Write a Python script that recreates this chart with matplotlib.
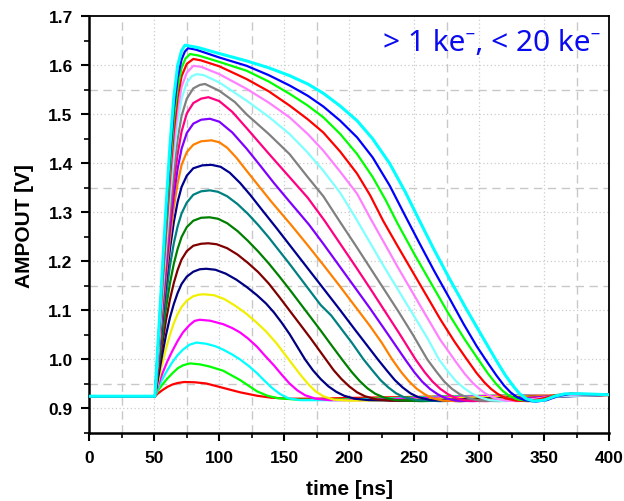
import matplotlib
matplotlib.use("Agg")
import matplotlib.pyplot as plt
from matplotlib.ticker import MultipleLocator

# ---------------- data ----------------
t_c01 = [0, 50.5, 53, 56, 60, 64, 68, 73, 81, 90, 103, 116, 129, 140, 155, 175, 210, 260, 320, 400]
v_c01 = [.925, .925, .931, .937, .944, .949, .952, .954, .9535, .951, .942, .933, .926, .922, .920, .920, .922, .924, .926, .927]

t_c02 = [0, 50.5, 53, 56, 60, 64, 68, 72, 77.5, 85, 92, 103, 116, 129, 137, 145, 160, 190, 230, 280, 340, 400]
v_c02 = [.925, .925, .937, .948, .961, .972, .982, .988, .992, .990, .986, .977, .958, .935, .926, .921, .918, .918, .921, .925, .927, .928]

t_c03 = [0, 50.5, 53, 56, 60, 64, 68, 72, 77, 82.5, 90, 97, 103, 110, 116, 123, 129, 135, 141, 147, 153, 162, 190, 230, 280, 340, 400]
v_c03 = [.925, .925, .942, .959, .978, .995, 1.009, 1.020, 1.030, 1.0345, 1.032, 1.027, 1.020, 1.010, 1.000, .986, .972, .956, .941, .929, .921, .917, .917, .920, .924, .927, .928]

t_c04 = [0, 50.5, 53, 56, 60, 64, 68, 72, 77, 81, 85, 93, 103, 110, 116, 122, 129, 135, 142, 148, 154, 160, 166, 174, 185, 210, 250, 300, 350, 400]
v_c04 = [.925, .925, .948, .970, .996, 1.018, 1.038, 1.055, 1.070, 1.0787, 1.081, 1.079, 1.072, 1.064, 1.055, 1.043, 1.026, 1.008, .988, .969, .951, .937, .927, .920, .917, .917, .921, .925, .927, .928]

t_c05 = [0, 50.5, 53, 56, 59, 62, 65, 68, 71, 75, 80, 84, 88, 96, 104, 112, 120, 128, 136, 144, 150, 156, 162, 168, 174, 180, 188, 200, 240, 290, 340, 400]
v_c05 = [.925, .925, .955, .990, 1.022, 1.050, 1.074, 1.093, 1.107, 1.120, 1.129, 1.132, 1.133, 1.131, 1.123, 1.110, 1.095, 1.077, 1.057, 1.033, 1.012, .991, .970, .951, .935, .925, .918, .916, .917, .922, .926, .928]

t_c06 = [0, 50.5, 53, 56, 59, 62, 65, 68, 71, 75, 80, 85, 90, 97, 105, 113, 121, 129, 136, 142, 148, 154, 160, 166, 172, 178, 184, 190, 196, 204, 215, 240, 280, 320, 360, 400]
v_c06 = [.925, .925, .963, 1.008, 1.050, 1.085, 1.113, 1.136, 1.154, 1.169, 1.179, 1.184, 1.185, 1.183, 1.175, 1.163, 1.148, 1.131, 1.114, 1.096, 1.075, 1.052, 1.026, 1.000, .978, .960, .945, .934, .926, .920, .917, .916, .918, .922, .926, .928]

t_c07 = [0, 50.5, 53, 56, 59, 62, 65, 68, 71, 75, 80, 86, 91.5, 98, 106, 114, 122, 130, 138, 146, 154, 162, 170, 176, 182, 188, 194, 200, 206, 212, 220, 232, 260, 300, 340, 400]
v_c07 = [.925, .925, .972, 1.028, 1.080, 1.122, 1.156, 1.183, 1.204, 1.221, 1.232, 1.236, 1.237, 1.235, 1.227, 1.214, 1.197, 1.178, 1.155, 1.128, 1.100, 1.072, 1.044, 1.022, 1.000, .978, .960, .945, .933, .925, .919, .916, .916, .919, .924, .928]

t_c08 = [0, 50.5, 53, 56, 59, 62, 65, 68, 71, 75, 80, 86, 92.5, 99, 106, 114, 122, 130, 138, 146, 154, 162, 170, 178, 186, 195, 202, 208, 214, 220, 227, 236, 255, 290, 330, 370, 400]
v_c08 = [.925, .925, .980, 1.045, 1.105, 1.155, 1.195, 1.226, 1.250, 1.270, 1.283, 1.289, 1.290, 1.287, 1.278, 1.262, 1.242, 1.220, 1.196, 1.170, 1.143, 1.115, 1.087, 1.059, 1.030, .998, .974, .956, .941, .930, .922, .917, .915, .917, .922, .926, .928]

t_c09 = [0, 50.5, 53, 56, 59, 62, 65, 68, 71, 75, 80, 86, 92.8, 99, 106, 114, 122, 130, 138, 146, 154, 162, 170, 178, 186, 194, 202, 211, 218, 224, 230, 236, 242, 252, 270, 310, 350, 400]
v_c09 = [.925, .925, .985, 1.060, 1.130, 1.190, 1.237, 1.272, 1.298, 1.320, 1.336, 1.343, 1.345, 1.342, 1.333, 1.317, 1.297, 1.274, 1.249, 1.222, 1.195, 1.167, 1.139, 1.111, 1.090, 1.062, 1.034, 1.000, .977, .958, .943, .931, .923, .917, .915, .918, .924, .928]

t_c10 = [0, 50.5, 53, 56, 59, 62, 65, 68, 71, 75, 80, 87, 94, 101, 108, 116, 124, 132, 138, 144, 156, 168, 180, 192, 204, 213, 222, 229, 235, 241, 247, 253, 263, 285, 320, 360, 400]
v_c10 = [.925, .925, .990, 1.075, 1.155, 1.225, 1.280, 1.322, 1.352, 1.375, 1.390, 1.396, 1.397, 1.393, 1.381, 1.360, 1.335, 1.308, 1.288, 1.268, 1.227, 1.186, 1.145, 1.104, 1.062, 1.031, 1.000, .977, .958, .943, .931, .923, .917, .915, .918, .924, .928]

t_c11 = [0, 50.5, 53, 56, 59, 62, 65, 68, 71, 75, 80, 86, 94, 100, 106, 113, 121, 130, 140, 148, 156, 168, 180, 192, 204, 216, 225, 233, 240, 246, 252, 258, 264, 272, 285, 310, 345, 400]
v_c11 = [.925, .925, .995, 1.085, 1.170, 1.245, 1.310, 1.360, 1.397, 1.423, 1.438, 1.445, 1.447, 1.443, 1.432, 1.412, 1.385, 1.355, 1.322, 1.297, 1.272, 1.233, 1.193, 1.152, 1.110, 1.068, 1.034, 1.000, .974, .955, .940, .929, .921, .916, .915, .918, .925, .928]

t_c12 = [0, 50.5, 53, 56, 59, 62, 65, 68, 71, 75, 80, 86, 92.8, 100, 110, 121, 131, 142, 154, 162, 169, 180, 192, 204, 216, 228, 243, 250, 256, 262, 268, 274, 282, 295, 320, 355, 400]
v_c12 = [.925, .925, 1.000, 1.095, 1.185, 1.265, 1.335, 1.390, 1.430, 1.462, 1.481, 1.489, 1.491, 1.485, 1.463, 1.430, 1.397, 1.360, 1.322, 1.297, 1.275, 1.236, 1.192, 1.148, 1.104, 1.058, 1.000, .974, .955, .940, .929, .921, .916, .915, .918, .925, .928]

t_c13 = [0, 50.5, 53, 56, 59, 62, 65, 68, 71, 75, 80, 86, 91.6, 100, 110, 121, 138, 154, 168, 181, 193, 205, 216, 227, 238, 251, 258, 264, 270, 276, 282, 290, 305, 330, 360, 400]
v_c13 = [.925, .925, 1.005, 1.105, 1.200, 1.285, 1.360, 1.420, 1.465, 1.502, 1.523, 1.532, 1.535, 1.527, 1.505, 1.472, 1.420, 1.372, 1.330, 1.283, 1.236, 1.189, 1.145, 1.100, 1.055, 1.000, .974, .955, .940, .929, .921, .916, .915, .918, .925, .928]

t_c14 = [0, 50.5, 53, 56, 59, 62, 65, 68, 71, 75, 80, 85, 89, 100, 112, 121, 138, 154, 168, 180, 193, 205, 216, 227, 238, 249, 260, 267, 273, 279, 285, 292, 300, 315, 340, 365, 400]
v_c14 = [.925, .925, 1.010, 1.115, 1.215, 1.305, 1.385, 1.450, 1.497, 1.532, 1.553, 1.560, 1.562, 1.548, 1.525, 1.500, 1.460, 1.419, 1.372, 1.333, 1.280, 1.232, 1.187, 1.142, 1.097, 1.050, 1.000, .975, .955, .940, .929, .921, .916, .915, .918, .925, .928]

t_c15 = [0, 50.5, 53, 56, 59, 62, 65, 68, 71, 75, 79, 82.6, 88, 100, 121, 138, 154, 168, 180, 193, 205, 216, 227, 238, 249, 260, 269, 276, 282, 288, 294, 300, 308, 320, 340, 360, 400]
v_c15 = [.925, .925, 1.015, 1.125, 1.230, 1.330, 1.415, 1.485, 1.532, 1.565, 1.578, 1.582, 1.580, 1.565, 1.528, 1.495, 1.460, 1.422, 1.385, 1.340, 1.288, 1.238, 1.188, 1.140, 1.092, 1.044, 1.000, .975, .956, .942, .931, .923, .917, .915, .918, .925, .928]

t_c16 = [0, 50.5, 53, 56, 59, 62, 65, 68, 71, 75, 80, 86, 100, 121, 138, 154, 168, 180, 193, 206, 216, 227, 238, 249, 260, 270, 282, 289, 295, 300, 305, 311, 320, 330, 345, 360, 400]
v_c16 = [.925, .925, 1.020, 1.135, 1.245, 1.350, 1.440, 1.510, 1.556, 1.585, 1.599, 1.597, 1.582, 1.552, 1.524, 1.494, 1.460, 1.426, 1.383, 1.338, 1.289, 1.237, 1.185, 1.135, 1.085, 1.040, .995, .970, .952, .940, .930, .922, .916, .915, .920, .927, .928]

t_c17 = [0, 50.5, 53, 56, 59, 62, 65, 68, 71, 75, 80, 86, 100, 121, 138, 154, 168, 180, 193, 206, 216, 226, 237, 248, 259, 270, 281, 291, 298, 304, 309, 314, 320, 328, 338, 348, 358, 370, 400]
v_c17 = [.925, .925, 1.025, 1.145, 1.260, 1.370, 1.465, 1.535, 1.578, 1.603, 1.613, 1.610, 1.598, 1.572, 1.547, 1.518, 1.490, 1.463, 1.424, 1.379, 1.335, 1.283, 1.232, 1.182, 1.132, 1.082, 1.036, .998, .972, .953, .940, .930, .921, .916, .915, .920, .927, .930, .928]

t_c18 = [0, 50.5, 53, 56, 59, 62, 65, 68, 71, 74, 77.5, 84, 100, 121, 138, 154, 168, 180, 193, 206, 218, 228, 237, 250, 263, 276, 289, 300, 307, 313, 318, 323, 330, 340, 350, 358, 370, 400]
v_c18 = [.925, .925, 1.030, 1.155, 1.275, 1.390, 1.490, 1.555, 1.595, 1.614, 1.623, 1.620, 1.607, 1.589, 1.567, 1.542, 1.518, 1.494, 1.460, 1.419, 1.372, 1.325, 1.278, 1.215, 1.155, 1.095, 1.040, .997, .970, .950, .936, .926, .918, .915, .918, .926, .930, .928]

t_c19 = [0, 50.5, 53, 56, 59, 62, 65, 68, 71, 73.5, 76, 82, 100, 121, 138, 154, 168, 180, 193, 206, 218, 231, 243, 254, 265, 277, 288, 298, 306, 313, 319, 324, 329, 335, 343, 352, 360, 370, 400]
v_c19 = [.925, .925, 1.035, 1.165, 1.290, 1.410, 1.510, 1.575, 1.612, 1.628, 1.635, 1.632, 1.616, 1.599, 1.580, 1.559, 1.538, 1.516, 1.487, 1.453, 1.412, 1.355, 1.293, 1.237, 1.182, 1.125, 1.072, 1.027, .995, .968, .947, .933, .923, .917, .914, .917, .925, .930, .928]

t_c20 = [0, 50.5, 53, 56, 59, 62, 65, 68, 71, 73.6, 78, 84, 100, 121, 138, 154, 168, 180, 193, 206, 218, 231, 243, 254, 265, 277, 290, 302, 313, 320, 326, 331, 336, 342, 350, 358, 366, 380, 400]
v_c20 = [.925, .925, 1.040, 1.175, 1.310, 1.435, 1.535, 1.600, 1.630, 1.641, 1.639, 1.636, 1.624, 1.609, 1.595, 1.579, 1.562, 1.543, 1.517, 1.487, 1.450, 1.400, 1.342, 1.283, 1.225, 1.165, 1.103, 1.048, .998, .968, .946, .930, .920, .915, .917, .925, .930, .930, .928]

curve_colors = ["#FF0000", "#00FF00", "#00FFFF", "#FF00FF", "#F0F000", "#000080",
                "#800000", "#008000", "#008080", "#000090", "#FF8000", "#8000FF",
                "#FF0080", "#808080", "#80FFFF", "#FF80FF", "#FF0000", "#00FF00",
                "#0000FF", "#00FFFF"]

x_ticks = [0, 50, 100, 150, 200, 250, 300, 350, 400]
y_ticks = [0.9, 1.0, 1.1, 1.2, 1.3, 1.4, 1.5, 1.6, 1.7]
x_minor_grid = [25, 75, 125, 175, 275, 375]
y_minor_grid = [0.95, 1.15, 1.35, 1.55]

series_t = [t_c01, t_c02, t_c03, t_c04, t_c05, t_c06, t_c07, t_c08, t_c09, t_c10,
            t_c11, t_c12, t_c13, t_c14, t_c15, t_c16, t_c17, t_c18, t_c19, t_c20]
series_v = [v_c01, v_c02, v_c03, v_c04, v_c05, v_c06, v_c07, v_c08, v_c09, v_c10,
            v_c11, v_c12, v_c13, v_c14, v_c15, v_c16, v_c17, v_c18, v_c19, v_c20]

# ---------------- figure ----------------
plt.rcParams['font.family'] = ['Liberation Sans', 'DejaVu Sans']
fig = plt.figure(figsize=(6.24, 5.02), dpi=100)
ax = fig.add_axes([89.3 / 624, (502 - 434) / 502, (609.3 - 89.3) / 624, (434 - 17.3) / 502])

ax.set_xlim(0, 400)
ax.set_ylim(0.85, 1.7)

# grid
for gx in x_ticks[1:-1]:
    ax.axvline(gx, color="#cccccc", lw=0.9, ls=(0, (1, 2)), zorder=0)
for gy in y_ticks[:-1]:
    ax.axhline(gy, color="#cccccc", lw=0.9, ls=(0, (1, 2)), zorder=0)
for gx in x_minor_grid:
    ax.axvline(gx, color="#c8c8c8", lw=1.0, ls=(0, (6, 4)), zorder=0)
for gy in y_minor_grid:
    ax.axhline(gy, color="#c8c8c8", lw=1.0, ls=(0, (6, 4)), zorder=0)

for i, (tt, vv) in enumerate(zip(series_t, series_v)):
    lw = 2.2 if i == len(series_t) - 1 else 1.6
    ax.plot(tt, vv, color=curve_colors[i], lw=lw, solid_joinstyle='round',
            solid_capstyle='round', zorder=2 + i)

ax.set_xticks(x_ticks)
ax.set_yticks(y_ticks)
ax.xaxis.set_minor_locator(MultipleLocator(25))
ax.yaxis.set_minor_locator(MultipleLocator(0.05))
ax.set_xticklabels([str(v) for v in x_ticks])
ax.set_yticklabels([f"{v:.1f}" for v in y_ticks])
ax.tick_params(axis='both', which='major', direction='out', length=6, width=1.5,
               labelsize=12.5, pad=6)
ax.tick_params(axis='both', which='minor', direction='out', length=3.5, width=1.2)
for lab in ax.get_xticklabels() + ax.get_yticklabels():
    lab.set_fontweight('bold')

for side in ['left', 'bottom']:
    ax.spines[side].set_linewidth(1.8)
for side in ['top', 'right']:
    ax.spines[side].set_linewidth(1.3)

ax.set_xlabel("time [ns]", fontsize=15, fontweight='bold', labelpad=10)
ax.set_ylabel("AMPOUT [V]", fontsize=15, fontweight='bold', labelpad=10)

ax.text(393, 1.647, "> 1 ke\u207b, < 20 ke\u207b", color="#0a0aee", fontsize=21.5,
        family=['Noto Sans', 'DejaVu Sans'], ha='right', va='center')

fig.savefig("out.png", dpi=100, facecolor='white')
